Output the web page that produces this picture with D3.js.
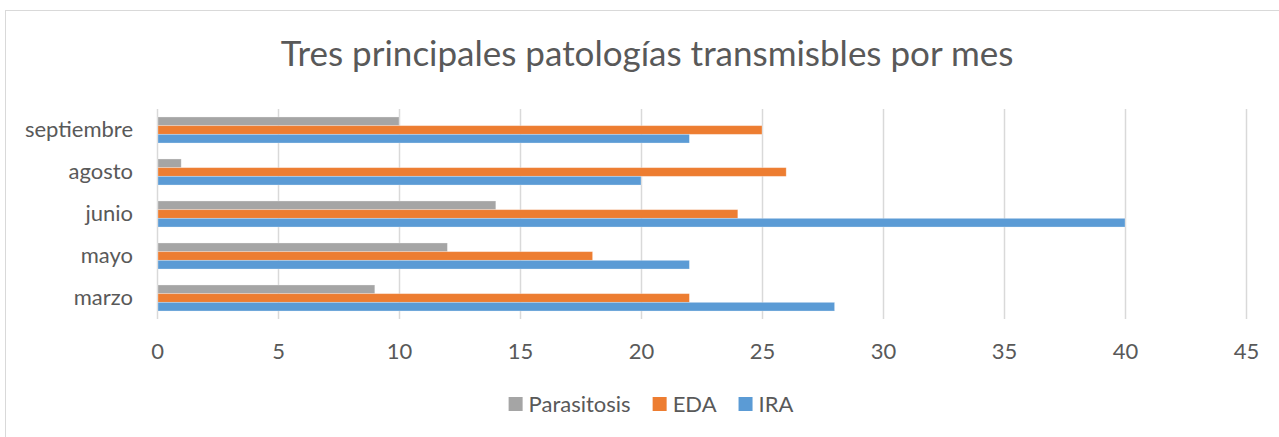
<!DOCTYPE html>
<html>
<head>
<meta charset="utf-8">
<script src="https://cdn.jsdelivr.net/npm/d3@7"></script>
<style>
  body { margin: 0; background: #fff; }
  svg { display: block; font-family: Lato, "Open Sans", sans-serif; }
</style>
</head>
<body>
<svg id="chart"></svg>
<script>
// months, listed top to bottom as in the picture
var months = ["septiembre", "agosto", "junio", "mayo", "marzo"];
var seriesNames = ["Parasitosis", "EDA", "IRA"];
var parasitosis = [10, 1, 14, 12, 9];
var eda = [25, 26, 24, 18, 22];
var ira = [22, 20, 40, 22, 28];
var xTicks = [0, 5, 10, 15, 20, 25, 30, 35, 40, 45];
var colorArr = ["#a5a5a5", "#ed7d31", "#5b9bd5"];

var svgWidth = 1279;
var svgHeight = 437;
var plotLeft = 157, plotRight = 1246, plotTop = 109, plotBottom = 319;

var svg = d3.select("#chart")
  .attr("width", svgWidth)
  .attr("height", svgHeight);

// chart frame (runs off the right and bottom edge)
svg.append("rect")
  .attr("x", 5.5).attr("y", 10.5)
  .attr("width", 1300).attr("height", 450)
  .attr("fill", "#fff")
  .attr("stroke", "#d9d9d9");

svg.append("text")
  .attr("x", 647).attr("y", 66)
  .attr("text-anchor", "middle")
  .attr("font-size", 35)
  .attr("fill", "#595959")
  .text("Tres principales patologías transmisbles por mes");

var x = d3.scaleLinear().domain([0, 45]).range([plotLeft, plotRight]);
var y = d3.scaleBand().domain(months).range([plotTop, plotBottom])
  .paddingInner(0.38).paddingOuter(0.19);
var ySub = d3.scaleBand().domain(seriesNames).range([0, y.bandwidth()]);

// grid + tick labels
var xAxis = svg.append("g")
  .attr("transform", "translate(0," + plotBottom + ")")
  .call(d3.axisBottom(x).tickValues(xTicks).tickSize(-(plotBottom - plotTop)).tickPadding(24));
xAxis.select(".domain").remove();
xAxis.selectAll("line").attr("stroke", "#d9d9d9").attr("stroke-width", 1.5);
xAxis.selectAll("text")
  .attr("font-size", 22)
  .attr("font-family", "Lato, 'Open Sans', sans-serif")
  .attr("fill", "#595959");

var yAxis = svg.append("g")
  .attr("transform", "translate(" + plotLeft + ",0)")
  .call(d3.axisLeft(y).tickSize(0).tickPadding(24));
yAxis.select(".domain").remove();
yAxis.selectAll("text")
  .attr("font-size", 22)
  .attr("font-family", "Lato, 'Open Sans', sans-serif")
  .attr("fill", "#595959");

var rows = months.map(function(m, i) {
  return {month: m, values: [parasitosis[i], eda[i], ira[i]]};
});

var groups = svg.selectAll("g.row")
  .data(rows)
  .enter().append("g")
  .attr("class", "row")
  .attr("transform", function(d) { return "translate(0," + y(d.month) + ")"; });

groups.selectAll("rect")
  .data(function(d) { return d.values.map(function(v, j) { return {name: seriesNames[j], value: v, i: j}; }); })
  .enter().append("rect")
  .attr("x", x(0) + 1)
  .attr("y", function(d) { return ySub(d.name); })
  .attr("height", ySub.bandwidth())
  .attr("width", function(d) { return x(d.value) - x(0) - 1; })
  .attr("fill", function(d) { return colorArr[d.i]; })
  .attr("stroke", "#fff")
  .attr("stroke-opacity", 0.35)
  .attr("stroke-width", 0.8);

// legend
var legend = svg.append("g").attr("transform", "translate(0,404)");
var items = legend.selectAll("g")
  .data(seriesNames)
  .enter().append("g");
items.append("rect")
  .attr("width", 14).attr("height", 14)
  .attr("y", -7)
  .attr("fill", function(d, i) { return colorArr[i]; });
items.append("text")
  .attr("x", 20)
  .attr("dy", "0.35em")
  .attr("font-size", 22)
  .attr("fill", "#595959")
  .text(function(d) { return d; });

var offset = 0;
var widths = [];
items.each(function() {
  widths.push(20 + this.querySelector("text").getComputedTextLength());
});
var total = d3.sum(widths) + 22 * (widths.length - 1);
var startX = 651 - total / 2;
items.attr("transform", function(d, i) {
  var t = "translate(" + (startX + offset) + ",0)";
  offset += widths[i] + 22;
  return t;
});
</script>
</body>
</html>
